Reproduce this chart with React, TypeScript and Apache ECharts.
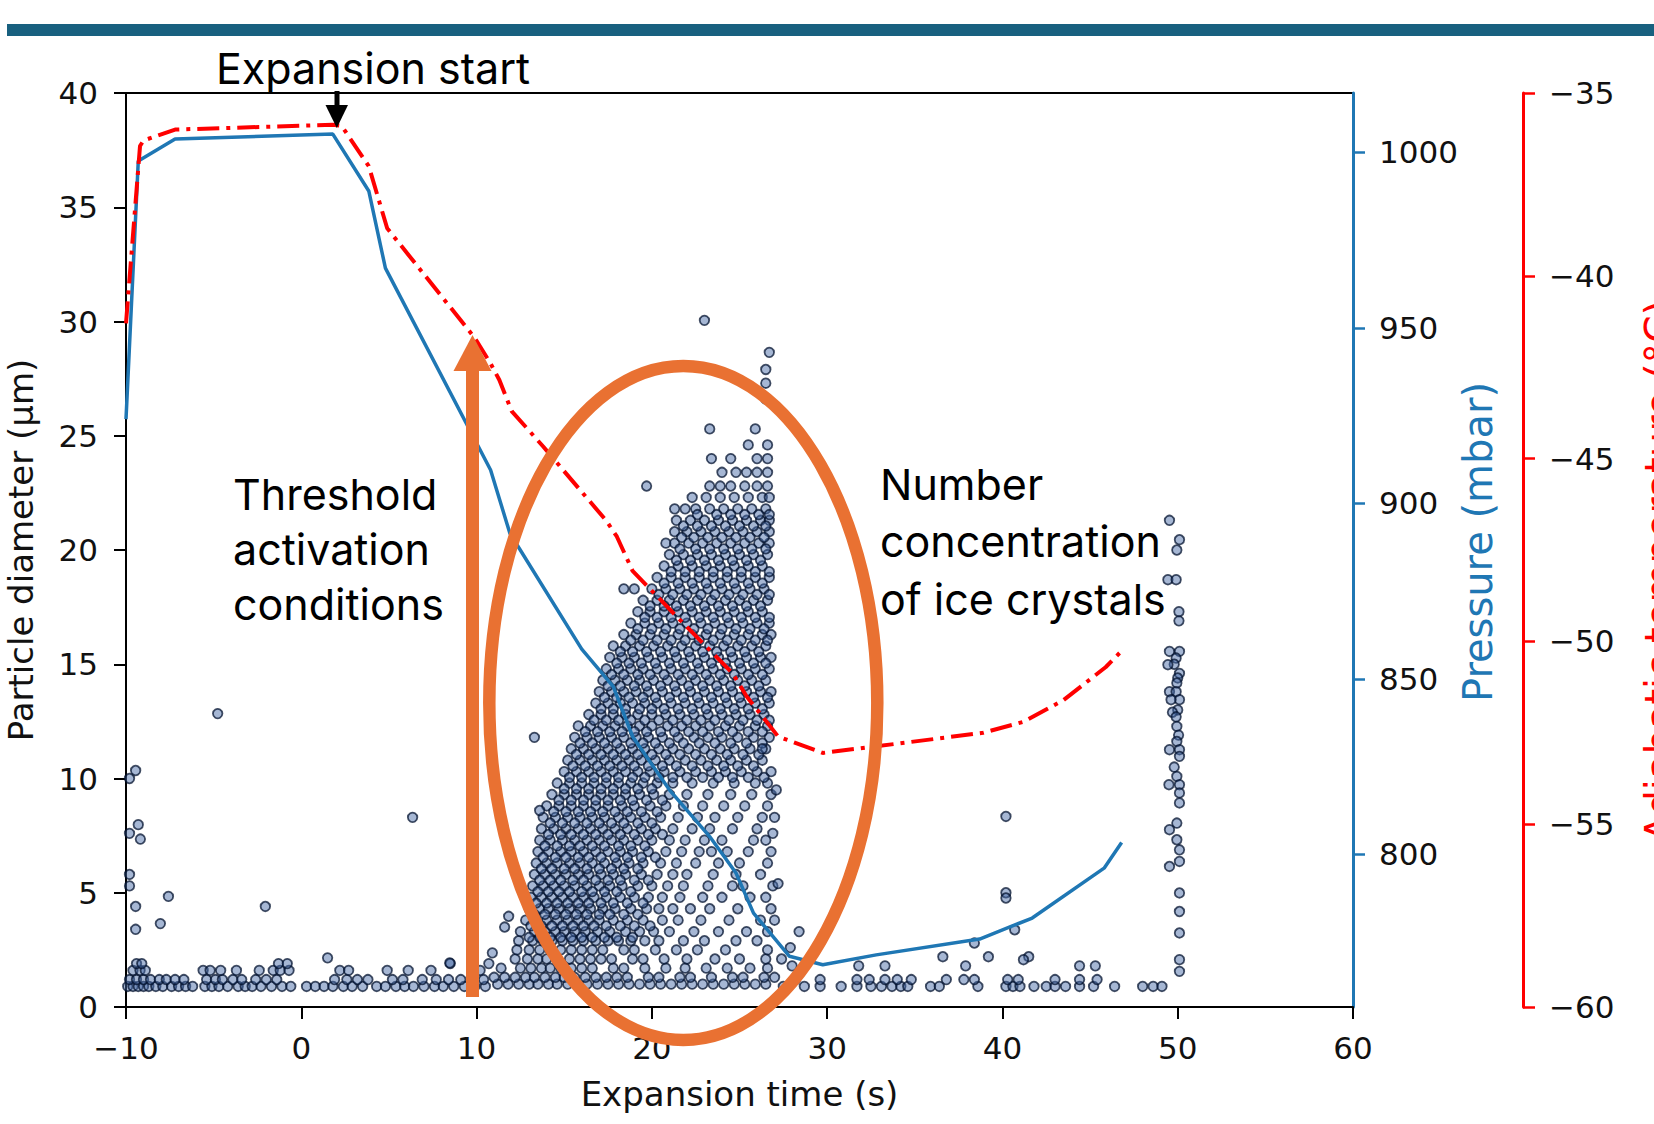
import React, { useEffect, useRef } from 'react';
import * as echarts from 'echarts';

// ---------- axis ticks ----------
const xTicks = { min: -10, max: 60, interval: 10 };
const diameterTicks = { min: 0, max: 40, interval: 5 };
const pressureTickValues = [800, 850, 900, 950, 1000];
const pressureRange = { min: 756.55, max: 1016.9 };
const temperatureTicks = { min: -60, max: -35, interval: 5 };

// ---------- line series: [time (s), value] ----------
const pressureLine: [number, number][] = [
  [-10, 924], [-9.3, 997.5], [-7.2, 1003.8], [1.8, 1005.2], [3.85, 989], [4.8, 967],
  [10.8, 909.5], [11.9, 891.5], [16.0, 858.5], [17.8, 847.8], [18.9, 833.6], [21.0, 818.4],
  [23.3, 805.1], [24.8, 794.7], [25.8, 783.3], [27.85, 771], [29.75, 768.6], [32.8, 771.4],
  [38.7, 775.9], [41.7, 781.9], [45.8, 796.1], [46.8, 803.4],
];

const temperatureLine: [number, number][] = [
  [-10, -41.3], [-9.2, -36.45], [-9.0, -36.3], [-7.2, -36.0], [1.8, -35.87], [2.3, -35.9],
  [3.85, -37.0], [4.9, -38.7], [9.9, -41.7], [10.8, -42.4], [11.3, -42.85], [12.0, -43.7],
  [13.8, -44.67], [17.4, -46.7], [18.0, -47.13], [18.9, -48.07], [21.6, -49.41], [24.6, -50.87],
  [25.4, -51.5], [27.2, -52.6], [29.75, -53.05], [32.8, -52.87], [38.9, -52.5], [41.2, -52.2],
  [43.5, -51.6], [45.9, -50.7], [46.8, -50.26],
];

// ---------- particle scatter rows: [diameter (µm), times (s)] ----------
const baselineLeftRows: [number, number[]][] = [
  [0.9, [-9.9, -9.6, -9.3, -9.0, -8.7, -8.3, -7.9, -7.4, -7.0, -6.6, -6.2, -5.5, -5.1, -4.7, -4.2, -3.6, -3.2, -2.8, -2.3, -1.7, -1.1, -0.6, 0.3, 0.8, 1.3, 1.8, 2.4, 2.9, 3.5, 4.3, 4.8, 5.4, 5.9, 6.4, 7.0, 7.6, 8.1, 8.7, 9.3, 9.9, 10.5]],
  [1.2, [-9.8, -9.4, -9.0, -8.6, -8.1, -7.7, -7.2, -6.7, -5.4, -4.9, -4.5, -3.9, -3.4, -2.6, -2.0, -1.4, 1.9, 2.6, 3.2, 3.8, 5.2, 5.8, 6.9, 7.7, 8.4, 9.1, 9.8, 10.4]],
  [1.6, [-9.6, -9.2, -8.9, -5.6, -5.2, -4.6, -3.7, -2.4, -1.6, -1.2, -0.7, 2.2, 2.7, 4.9, 6.1, 7.4, 10.2]],
  [1.9, [-9.4, -9.1, -1.3, -0.8, 8.5, 10.7]],
];

const cloudRows: [number, number[]][] = [
  [1.0, [11.2, 11.8, 12.4, 13.0, 13.5, 14.1, 14.6, 15.2, 15.7, 16.3, 16.9, 17.5, 18.1, 18.7, 19.3, 19.9, 20.5, 21.1, 21.7, 22.3, 22.9, 23.5, 24.1, 24.7, 25.3, 25.9, 26.5]],
  [1.3, [11.0, 11.6, 12.2, 12.8, 13.3, 13.9, 14.5, 15.0, 15.6, 16.2, 16.8, 17.4, 18.0, 18.6, 19.8, 20.4, 21.6, 22.2, 23.4, 24.6, 25.2, 26.4, 27.0]],
  [1.7, [11.4, 12.5, 13.1, 13.7, 14.2, 14.8, 15.4, 16.0, 16.6, 17.8, 18.4, 19.6, 20.8, 21.9, 23.1, 24.3, 25.6, 26.6]],
  [2.1, [12.2, 12.9, 13.5, 14.0, 14.6, 15.3, 15.9, 16.5, 17.1, 17.7, 18.9, 19.5, 20.7, 22.0, 23.6, 25.0, 26.5, 27.4]],
  [2.5, [12.3, 13.0, 13.6, 14.2, 14.8, 15.4, 16.0, 16.6, 17.2, 18.4, 19.0, 20.2, 21.4, 22.6, 24.2, 26.6]],
  [2.9, [12.4, 13.2, 13.8, 14.3, 14.9, 15.5, 16.1, 16.8, 17.5, 18.1, 18.8, 19.6, 20.4, 21.8, 23.0, 24.8, 26.0]],
  [3.3, [12.5, 13.3, 13.9, 14.5, 15.0, 15.6, 16.2, 16.9, 17.6, 18.5, 19.3, 20.1, 21.0, 22.4, 23.8, 25.4, 26.6]],
  [3.8, [12.8, 13.4, 14.0, 14.6, 15.2, 15.8, 16.4, 17.0, 17.8, 18.6, 19.5, 20.6, 21.5, 22.8, 24.4, 26.2, 27.0]],
  [4.3, [13.0, 13.6, 14.1, 14.7, 15.3, 15.9, 16.5, 17.2, 17.9, 18.8, 19.7, 20.4, 21.2, 22.2, 23.3, 24.9, 26.8]],
  [4.8, [13.1, 13.7, 14.3, 14.9, 15.5, 16.1, 16.7, 17.4, 18.2, 19.0, 19.8, 20.6, 21.6, 22.9, 24.0, 25.6, 26.5]],
  [5.3, [13.2, 13.8, 14.4, 15.0, 15.6, 16.3, 17.0, 17.6, 18.3, 19.2, 20.0, 20.9, 21.8, 23.2, 24.6, 25.2, 26.9]],
  [5.8, [13.3, 13.9, 14.5, 15.1, 15.8, 16.4, 17.1, 17.8, 18.5, 19.4, 20.3, 21.2, 22.0, 23.5, 24.8, 26.2]],
  [6.3, [13.4, 14.0, 14.6, 15.3, 15.9, 16.6, 17.3, 18.0, 18.7, 19.5, 20.5, 21.4, 22.5, 23.8, 25.0, 26.6]],
  [6.8, [13.5, 14.1, 14.8, 15.4, 16.1, 16.8, 17.5, 18.2, 18.9, 19.8, 20.8, 21.7, 22.7, 23.4, 24.3, 25.5, 26.8]],
  [7.3, [13.6, 14.2, 14.9, 15.6, 16.3, 17.0, 17.7, 18.4, 19.2, 20.0, 21.0, 21.9, 23.0, 24.0, 25.8, 26.5]],
  [7.8, [13.7, 14.4, 15.1, 15.8, 16.5, 17.2, 17.9, 18.6, 19.4, 20.2, 21.2, 22.3, 23.3, 24.6, 26.0]],
  [8.3, [13.8, 14.5, 15.2, 15.9, 16.6, 17.3, 18.1, 18.8, 19.6, 20.5, 21.5, 22.6, 23.6, 24.9, 26.3, 27.0]],
  [8.8, [14.0, 14.7, 15.4, 16.1, 16.8, 17.5, 18.3, 19.0, 19.9, 20.8, 21.8, 22.9, 24.1, 25.3, 26.6]],
  [9.3, [14.3, 15.0, 15.7, 16.4, 17.1, 17.8, 18.5, 19.3, 20.1, 21.0, 22.0, 23.2, 24.5, 25.7, 26.8]],
  [9.8, [14.6, 15.3, 16.0, 16.7, 17.4, 18.1, 18.8, 19.5, 20.3, 21.2, 22.3, 23.5, 24.7, 25.9, 26.6]],
  [10.3, [15.0, 15.7, 16.4, 17.1, 17.8, 18.5, 19.2, 19.9, 20.7, 21.6, 22.5, 23.4, 24.2, 25.1, 26.0, 26.8]],
  [10.8, [15.2, 15.9, 16.6, 17.3, 18.0, 18.7, 19.4, 20.2, 21.0, 21.9, 22.8, 23.7, 24.5, 25.4, 26.3]],
  [11.3, [15.4, 16.1, 16.8, 17.5, 18.2, 18.9, 19.6, 20.4, 21.2, 22.1, 23.0, 23.9, 24.7, 25.6, 26.5]],
  [11.8, [13.3, 15.6, 16.3, 17.0, 17.7, 18.4, 19.1, 19.8, 20.6, 21.5, 22.4, 23.2, 24.0, 24.9, 25.8, 26.7]],
  [12.3, [15.8, 16.5, 17.2, 17.9, 18.6, 19.3, 20.0, 20.9, 21.7, 22.5, 23.3, 24.2, 25.0, 25.9, 26.6]],
  [12.8, [16.4, 17.1, 17.8, 18.5, 19.2, 20.0, 20.8, 21.6, 22.4, 23.2, 24.0, 24.8, 25.6, 26.4]],
  [13.3, [16.8, 17.5, 18.2, 18.9, 19.6, 20.3, 21.1, 21.9, 22.7, 23.5, 24.3, 25.1, 25.9, 26.7]],
  [13.8, [17.0, 17.7, 18.4, 19.1, 19.8, 20.6, 21.4, 22.2, 23.0, 23.8, 24.6, 25.4, 26.2, 26.8]],
  [14.3, [17.2, 17.9, 18.6, 19.3, 20.1, 20.9, 21.7, 22.5, 23.3, 24.1, 24.9, 25.7, 26.5]],
  [14.8, [17.4, 18.1, 18.8, 19.5, 20.3, 21.1, 21.9, 22.7, 23.5, 24.3, 25.1, 25.9, 26.7]],
  [15.3, [17.6, 18.3, 19.0, 19.8, 20.6, 21.4, 22.2, 23.0, 23.8, 24.6, 25.4, 26.2, 26.8]],
  [15.8, [17.8, 18.5, 19.3, 20.1, 20.9, 21.7, 22.5, 23.3, 24.1, 24.9, 25.7, 26.5]],
  [16.3, [18.4, 19.1, 19.9, 20.7, 21.5, 22.3, 23.1, 23.9, 24.7, 25.5, 26.3, 26.8]],
  [16.8, [18.8, 19.6, 20.4, 21.2, 22.0, 22.8, 23.6, 24.4, 25.2, 26.0, 26.7]],
  [17.3, [19.2, 19.9, 20.7, 21.5, 22.3, 23.1, 23.9, 24.7, 25.5, 26.3]],
  [17.8, [19.5, 20.3, 21.0, 21.8, 22.6, 23.4, 24.2, 25.0, 25.8, 26.6]],
  [18.3, [18.4, 19.0, 20.0, 20.8, 21.6, 22.4, 23.2, 24.0, 24.8, 25.6, 26.4]],
  [18.8, [20.3, 21.1, 21.9, 22.7, 23.5, 24.3, 25.1, 25.9, 26.7]],
  [19.3, [20.7, 21.5, 22.3, 23.1, 23.9, 24.7, 25.5, 26.3]],
  [19.8, [21.0, 21.8, 22.6, 23.4, 24.2, 25.0, 25.8, 26.6]],
  [20.3, [20.8, 21.3, 22.1, 22.9, 23.7, 24.5, 25.3, 26.1, 26.7]],
  [20.8, [21.3, 22.0, 22.8, 23.6, 24.4, 25.2, 26.0, 26.7]],
  [21.3, [21.4, 22.2, 23.0, 23.8, 24.6, 25.4, 26.2, 26.7]],
  [21.8, [21.3, 21.9, 22.5, 23.3, 24.1, 24.9, 25.7, 26.5]],
  [22.3, [22.3, 23.1, 23.9, 24.7, 25.5, 26.3, 26.7]],
  [22.8, [19.7, 23.3, 23.9, 24.5, 25.3, 26.0, 26.6]],
  [23.4, [24.0, 24.8, 25.4, 26.0, 26.6]],
  [24.0, [23.4, 24.5, 26.0, 26.6]],
  [24.6, [25.5, 26.6]],
  [25.3, [23.3, 25.9]],
];

// additional detections between the rows above, in the densest parts of the cloud
const cloudDenseRows: [number, number[]][] = [
  [3.05, [13.0, 13.6, 14.2, 14.8, 15.4, 16.0, 16.6, 17.3, 18.0, 18.9]],
  [3.55, [13.1, 13.7, 14.3, 14.9, 15.5, 16.1, 16.7, 17.4, 18.2, 19.0, 19.9]],
  [4.05, [13.3, 13.9, 14.5, 15.1, 15.7, 16.3, 17.0, 17.6, 18.4, 19.2]],
  [4.55, [13.4, 14.0, 14.6, 15.2, 15.8, 16.4, 17.1, 17.8, 18.6, 19.5]],
  [5.05, [13.5, 14.1, 14.7, 15.3, 16.0, 16.6, 17.3, 18.0, 18.8]],
  [5.55, [13.6, 14.2, 14.8, 15.5, 16.1, 16.8, 17.5, 18.2, 19.0, 19.8]],
  [6.05, [13.7, 14.3, 15.0, 15.6, 16.3, 17.0, 17.7, 18.4, 19.2]],
  [6.55, [13.8, 14.5, 15.1, 15.8, 16.4, 17.1, 17.9, 18.6, 19.4, 20.2]],
  [7.05, [13.9, 14.6, 15.3, 15.9, 16.6, 17.3, 18.1, 18.8, 19.6]],
  [7.55, [14.1, 14.8, 15.4, 16.1, 16.8, 17.5, 18.2, 19.0, 19.8, 20.6]],
  [8.05, [14.2, 14.9, 15.6, 16.3, 17.0, 17.7, 18.4, 19.2, 20.0]],
  [8.55, [14.4, 15.1, 15.8, 16.5, 17.2, 17.9, 18.6, 19.4, 20.3]],
  [9.05, [14.7, 15.4, 16.1, 16.8, 17.5, 18.2, 18.9, 19.7, 20.6]],
  [9.55, [15.0, 15.7, 16.4, 17.1, 17.8, 18.5, 19.2, 20.0]],
  [10.05, [15.3, 16.0, 16.7, 17.4, 18.1, 18.9, 19.6, 20.4, 21.2, 22.0, 22.9, 23.8, 24.6, 25.5, 26.4]],
  [10.55, [15.5, 16.2, 16.9, 17.6, 18.3, 19.0, 19.8, 20.6, 21.4, 22.3, 23.2, 24.1, 24.9, 25.8]],
  [11.05, [15.7, 16.4, 17.1, 17.8, 18.5, 19.2, 20.0, 20.8, 21.6, 22.5, 23.4, 24.3, 25.2, 26.1]],
  [11.55, [15.9, 16.6, 17.3, 18.0, 18.8, 19.5, 20.2, 21.0, 21.8, 22.7, 23.6, 24.5, 25.4, 26.3]],
  [12.05, [16.2, 16.9, 17.6, 18.3, 19.0, 19.7, 20.5, 21.3, 22.1, 22.9, 23.8, 24.6, 25.5, 26.3]],
  [12.55, [16.7, 17.4, 18.1, 18.8, 19.6, 20.4, 21.2, 22.0, 22.8, 23.6, 24.4, 25.2, 26.0, 26.7]],
  [13.05, [17.1, 17.8, 18.5, 19.3, 20.0, 20.7, 21.5, 22.3, 23.1, 23.9, 24.7, 25.5, 26.3]],
  [13.55, [17.3, 18.0, 18.7, 19.5, 20.2, 21.0, 21.8, 22.6, 23.4, 24.2, 25.0, 25.8, 26.6]],
  [14.05, [17.5, 18.2, 19.0, 19.7, 20.5, 21.3, 22.1, 22.9, 23.7, 24.5, 25.3, 26.1]],
  [14.55, [17.7, 18.4, 19.2, 19.9, 20.7, 21.5, 22.3, 23.1, 23.9, 24.7, 25.5, 26.3]],
  [15.05, [18.0, 18.7, 19.4, 20.2, 21.0, 21.8, 22.6, 23.4, 24.2, 25.0, 25.8, 26.5]],
  [15.55, [18.2, 18.9, 19.7, 20.5, 21.3, 22.1, 22.9, 23.7, 24.5, 25.3, 26.1]],
  [16.05, [18.8, 19.5, 20.3, 21.1, 21.9, 22.7, 23.5, 24.3, 25.1, 25.9, 26.6]],
  [16.55, [19.2, 20.0, 20.8, 21.6, 22.4, 23.2, 24.0, 24.8, 25.6, 26.4]],
  [17.05, [19.6, 20.3, 21.1, 21.9, 22.7, 23.5, 24.3, 25.1, 25.9, 26.7]],
  [17.55, [19.9, 20.7, 21.4, 22.2, 23.0, 23.8, 24.6, 25.4, 26.2]],
  [18.05, [20.4, 21.2, 22.0, 22.8, 23.6, 24.4, 25.2, 26.0, 26.7]],
  [18.55, [20.7, 21.5, 22.3, 23.1, 23.9, 24.7, 25.5, 26.3]],
  [19.05, [21.1, 21.9, 22.7, 23.5, 24.3, 25.1, 25.9, 26.7]],
  [19.55, [21.4, 22.2, 23.0, 23.8, 24.6, 25.4, 26.2]],
  [20.05, [21.6, 22.5, 23.3, 24.1, 24.9, 25.7, 26.5]],
  [20.55, [21.7, 22.4, 23.2, 24.0, 24.8, 25.6, 26.4]],
  [21.05, [21.8, 22.6, 23.4, 24.2, 25.0, 25.8, 26.5]],
  [21.55, [22.6, 23.7, 24.5, 25.3, 26.1, 26.7]],
];

const baselineRightRows: [number, number[]][] = [
  [0.9, [27.5, 28.7, 29.6, 30.8, 31.7, 32.5, 33.1, 33.7, 34.2, 34.6, 35.9, 36.4, 38.6, 40.2, 40.6, 41.0, 41.8, 42.5, 43.0, 43.6, 44.4, 45.2, 46.4, 48.0, 48.6, 49.1]],
  [1.2, [28.2, 29.6, 31.7, 32.4, 33.3, 34.0, 34.8, 36.8, 37.8, 38.4, 40.3, 40.9, 43.0, 44.4, 45.4]],
  [1.8, [28.0, 31.8, 33.3, 37.9, 44.4, 45.3]],
  [2.2, [36.6, 39.2, 41.5]],
];

// column of detections near t = 50 s: [time, diameter]
const column50: [number, number][] = [
  [49.53, 21.3], [50.1, 20.45], [49.95, 20.0], [49.44, 18.7], [49.91, 18.7], [50.07, 17.3], [50.07, 16.9],
  [49.53, 15.56], [50.1, 15.56], [49.91, 15.27], [49.8, 15.0], [49.44, 14.98], [50.1, 14.6], [50.0, 14.4],
  [49.95, 14.18], [49.53, 13.8], [49.91, 13.8], [50.1, 13.45], [49.62, 13.45], [50.0, 13.0], [49.7, 12.9],
  [49.91, 12.7], [49.95, 12.28], [50.05, 11.9], [49.95, 11.62], [49.53, 11.26], [50.1, 11.26], [50.1, 10.97],
  [49.8, 10.5], [49.95, 10.09], [49.5, 9.73], [50.1, 9.73], [50.1, 9.37], [50.1, 8.93], [49.95, 8.05],
  [49.53, 7.76], [49.95, 7.32], [50.1, 6.88], [50.1, 6.37], [49.53, 6.15], [50.1, 4.99], [50.1, 4.18],
  [50.1, 3.24], [50.1, 2.07], [50.1, 1.56],
];

// isolated detections: [time, diameter]
const outliers: [number, number][] = [
  [-9.45, 10.35], [-9.8, 10.0], [-9.3, 7.98], [-9.18, 7.35], [-9.8, 7.6], [-9.8, 5.8], [-9.8, 5.3],
  [-9.45, 4.4], [-9.45, 3.4], [-8.04, 3.65], [-7.58, 4.84], [-4.77, 12.84], [-2.05, 4.4], [6.35, 8.3],
  [1.5, 2.15], [8.47, 1.93], [10.9, 2.37], [11.83, 3.97], [11.6, 3.5], [13.6, 8.6],
  [26.5, 26.6], [26.5, 27.3], [26.5, 27.9], [26.7, 28.65], [23.0, 30.05],
  [40.2, 8.34], [40.2, 5.0], [40.2, 4.77], [40.7, 3.38], [38.4, 2.8], [41.2, 2.07],
  [26.3, 11.3], [27.1, 9.5], [26.9, 7.6], [27.2, 5.4], [27.9, 2.6], [28.4, 3.3],
];

// ---------- layout constants ----------
const W = 1654;
const H = 1124;
const GRID = { left: 126, top: 93, width: 1227, height: 914 };
const BLUE = '#1f77b4';
const RED = '#ff0000';
const ORANGE = '#E97132';
const TICK_FONT = 'DejaVu Sans';
const NOTE_FONT = 'Inter';

const fmtMinus = (v: number) => (v < 0 ? '\u2212' + Math.abs(v) : String(v));

export default function App() {
  const ref = useRef<HTMLDivElement>(null);

  useEffect(() => {
    if (!ref.current) return;
    const chart = echarts.init(ref.current, undefined, { renderer: 'svg', width: W, height: H });

    const rowsToPoints = (rows: [number, number[]][]) =>
      rows.flatMap(([d, ts]) => ts.map((t) => [t, d] as [number, number]));

    const scatterData: [number, number][] = [
      ...rowsToPoints(baselineLeftRows),
      ...rowsToPoints(cloudRows),
      ...rowsToPoints(cloudDenseRows),
      ...rowsToPoints(baselineRightRows),
      ...column50,
      ...outliers,
    ];

    const tickLabel = { fontFamily: TICK_FONT, fontSize: 31, color: '#111' };

    const noteText = (text: string, x: number, y: number) => ({
      type: 'text',
      z: 100,
      style: { text, x, y, fill: '#000', fontSize: 43, fontFamily: NOTE_FONT, verticalAlign: 'middle', align: 'left' },
    });

    const option: any = {
      animation: false,
      backgroundColor: '#fff',
      grid: {
        ...GRID,
        show: true,
        borderColor: '#000',
        borderWidth: 2,
        backgroundColor: 'transparent',
        containLabel: false,
        outerBoundsMode: 'none',
      },
      xAxis: {
        type: 'value',
        min: xTicks.min,
        max: xTicks.max,
        interval: xTicks.interval,
        axisLine: { show: true, onZero: false, lineStyle: { color: '#000', width: 2 } },
        axisTick: { show: true, length: 12, lineStyle: { color: '#000', width: 2 } },
        axisLabel: { ...tickLabel, margin: 25, formatter: fmtMinus },
        splitLine: { show: false },
        name: 'Expansion time (s)',
        nameLocation: 'middle',
        nameGap: 70,
        nameMoveOverlap: false,
        nameTextStyle: { fontFamily: TICK_FONT, fontSize: 34, color: '#111' },
      },
      yAxis: [
        {
          type: 'value',
          position: 'left',
          min: diameterTicks.min,
          max: diameterTicks.max,
          interval: diameterTicks.interval,
          axisLine: { show: true, onZero: false, lineStyle: { color: '#000', width: 2 } },
          axisTick: { show: true, length: 12, lineStyle: { color: '#000', width: 2 } },
          axisLabel: { ...tickLabel, margin: 28 },
          splitLine: { show: false },
          name: 'Particle diameter (\u03bcm)',
          nameLocation: 'middle',
          nameRotate: 90,
          nameGap: 88,
          nameMoveOverlap: false,
          nameTextStyle: { fontFamily: TICK_FONT, fontSize: 34, color: '#111' },
        },
        {
          type: 'value',
          position: 'right',
          min: pressureRange.min,
          max: pressureRange.max,
          axisLine: { show: true, onZero: false, lineStyle: { color: BLUE, width: 3 } },
          axisTick: { show: true, length: 12, lineStyle: { color: BLUE, width: 2.5 }, customValues: pressureTickValues },
          axisLabel: { ...tickLabel, margin: 26, customValues: pressureTickValues, formatter: (v: number) => String(Math.round(v)) },
          splitLine: { show: false },
          name: 'Pressure (mbar)',
          nameLocation: 'middle',
          nameRotate: 90,
          nameGap: 105,
          nameMoveOverlap: false,
          nameTextStyle: { fontFamily: TICK_FONT, fontSize: 40, color: BLUE, padding: [0, 0, 0, 16] },
        },
        {
          type: 'value',
          position: 'right',
          offset: 170,
          min: temperatureTicks.min,
          max: temperatureTicks.max,
          interval: temperatureTicks.interval,
          axisLine: { show: true, onZero: false, lineStyle: { color: RED, width: 3 } },
          axisTick: { show: true, length: 12, lineStyle: { color: RED, width: 2.5 } },
          axisLabel: { ...tickLabel, margin: 26, formatter: fmtMinus },
          splitLine: { show: false },
          name: 'Adiabatic temperature (\u00b0C)',
          nameLocation: 'middle',
          nameRotate: 90,
          nameGap: 117,
          nameMoveOverlap: false,
          nameTextStyle: { fontFamily: TICK_FONT, fontSize: 40, color: RED, padding: [0, 42, 0, 0] },
        },
      ],
      series: [
        {
          type: 'scatter',
          yAxisIndex: 0,
          data: scatterData,
          symbol: 'circle',
          symbolSize: 9.5,
          itemStyle: { color: 'rgba(70,105,165,0.6)', borderColor: 'rgba(2,16,45,0.92)', borderWidth: 1.8 },
          z: 2,
        },
        {
          type: 'line',
          yAxisIndex: 1,
          data: pressureLine,
          symbol: 'none',
          lineStyle: { color: BLUE, width: 3.5 },
          z: 3,
        },
        {
          type: 'line',
          yAxisIndex: 2,
          data: temperatureLine,
          symbol: 'none',
          lineStyle: { color: RED, width: 4, type: [22, 7, 4, 7] },
          z: 4,
        },
      ],
      graphic: [
        { type: 'rect', z: 100, shape: { x: 7, y: 24, width: W - 7, height: 12 }, style: { fill: '#18607f' } },
        noteText('Expansion start', 216, 67.5),
        { type: 'rect', z: 100, shape: { x: 334.5, y: 91, width: 5, height: 17 }, style: { fill: '#000' } },
        { type: 'polygon', z: 100, shape: { points: [[325.5, 105], [348, 105], [336.8, 128]] }, style: { fill: '#000' } },
        noteText('Threshold', 233, 494),
        noteText('activation', 233, 549),
        noteText('conditions', 233, 604),
        noteText('Number', 880, 484),
        noteText('concentration', 880, 541),
        noteText('of ice crystals', 880, 599),
        { type: 'rect', z: 100, shape: { x: 466, y: 368, width: 13, height: 629 }, style: { fill: ORANGE } },
        { type: 'polygon', z: 100, shape: { points: [[453.5, 371], [491.5, 371], [472.5, 335]] }, style: { fill: ORANGE } },
        {
          type: 'ellipse',
          z: 100,
          shape: { cx: 683.3, cy: 703, rx: 194, ry: 337 },
          style: { fill: 'none', stroke: ORANGE, lineWidth: 12.5 },
        },
      ],
    };

    chart.setOption(option);
    return () => chart.dispose();
  }, []);

  return (
    <div
      ref={ref}
      style={{ position: 'absolute', left: 0, top: 0, width: W, height: H, overflow: 'hidden', background: '#fff' }}
    />
  );
}
